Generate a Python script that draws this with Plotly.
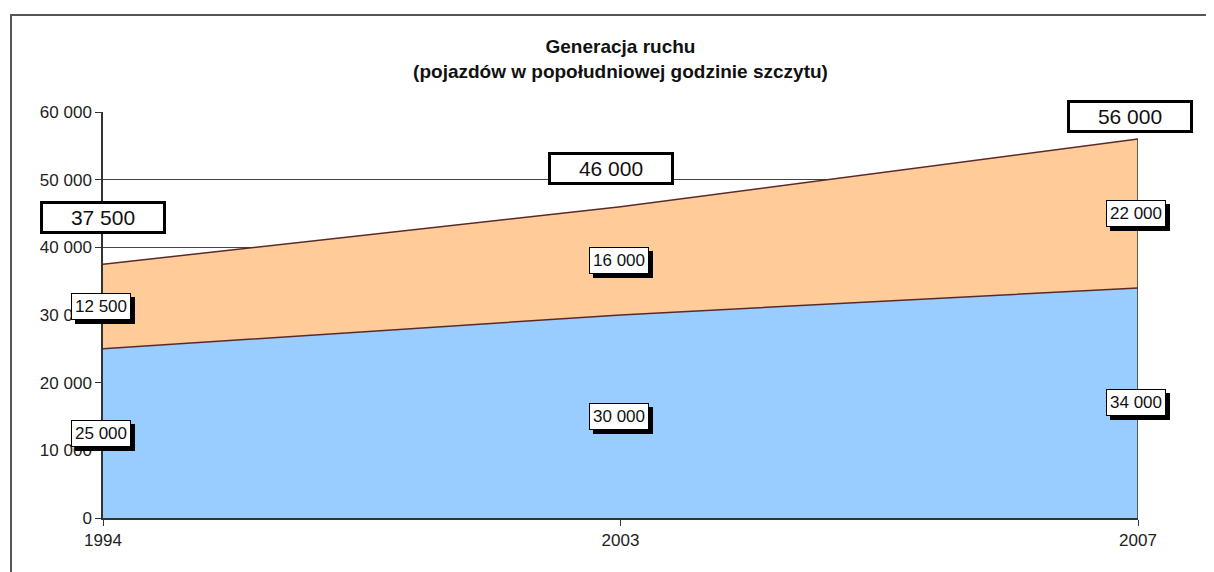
import plotly.graph_objects as go

# data
years = ["1994", "2003", "2007"]
base_traffic = [25000, 30000, 34000]      # lower (blue) band
added_traffic = [12500, 16000, 22000]     # upper (orange) band
totals = [b + a for b, a in zip(base_traffic, added_traffic)]

y_ticks = [0, 10000, 20000, 30000, 40000, 50000, 60000]


def fmt(v):
    # Polish style thousands separator: 37 500
    return f"{v:,}".replace(",", " ")


fig = go.Figure()

fig.add_trace(go.Scatter(
    x=years, y=base_traffic, stackgroup="s", mode="lines",
    line=dict(color="#5a2a2a", width=1.5), fillcolor="#99CCFF",
    hoverinfo="skip", showlegend=False,
))
fig.add_trace(go.Scatter(
    x=years, y=added_traffic, stackgroup="s", mode="lines",
    line=dict(color="#5a2a2a", width=1.5), fillcolor="#FFCC99",
    hoverinfo="skip", showlegend=False,
))
# closing edge of the area on the right side
fig.add_trace(go.Scatter(
    x=[years[-1], years[-1]], y=[0, totals[-1]], mode="lines",
    line=dict(color="#333333", width=1.5), hoverinfo="skip", showlegend=False,
))

small_font = dict(family="Liberation Sans, Arial, sans-serif", size=17, color="#111111")
big_font = dict(family="Liberation Sans, Arial, sans-serif", size=21, color="#111111")

annotations = []


def small_label(i, y, text, dx=0):
    # black drop shadow first, white box on top
    # (category index for x: numeric-looking names would be read as indices)
    common = dict(x=i, y=y, xref="x", yref="y", text=text, showarrow=False,
                  font=small_font, borderpad=3, borderwidth=1)
    annotations.append(dict(common, bgcolor="black", bordercolor="black",
                            font=dict(small_font, color="black"),
                            xshift=dx + 4, yshift=-4))
    annotations.append(dict(common, bgcolor="white", bordercolor="black",
                            xshift=dx))


for i in range(len(years)):
    small_label(i, base_traffic[i] / 2, fmt(base_traffic[i]), dx=-2)
    small_label(i, base_traffic[i] + added_traffic[i] / 2, fmt(added_traffic[i]), dx=-2)

# the total boxes were placed by hand above the area
total_shift = [(0, 47), (-10, 38), (-8, 23)]
for i in range(len(years)):
    dx, dy = total_shift[i]
    annotations.append(dict(
        x=i, y=totals[i], xref="x", yref="y", text=fmt(totals[i]),
        showarrow=False, font=big_font, bgcolor="white",
        bordercolor="black", borderwidth=3, width=118, height=25,
        xshift=dx, yshift=dy,
    ))

# page body has an 8px margin, so the figure is drawn 8px in from the corner
fig.update_layout(
    width=1206, height=564,
    margin=dict(l=95, r=76, t=104, b=54),
    paper_bgcolor="white", plot_bgcolor="white",
    separators=". ",
    font=dict(family="Liberation Sans, Arial, sans-serif", size=17, color="#222222"),
    title=dict(
        text="<b>Generacja ruchu<br>(pojazdów w popołudniowej godzinie szczytu)</b>",
        x=0.5, xref="paper", xanchor="center",
        y=1 - 45 / 564, yref="container", yanchor="top",
        font=dict(size=19, color="#111111"),
    ),
    xaxis=dict(
        type="category", range=[0, 2], showgrid=False,
        showline=True, linecolor="#333333", linewidth=1.5,
        ticks="outside", ticklen=6, tickcolor="#333333",
        tickfont=dict(size=17, color="#222222"),
    ),
    yaxis=dict(
        range=[0, 60000], tickvals=y_ticks, tickformat=",d",
        showgrid=True, gridcolor="#444444", gridwidth=1,
        showline=True, linecolor="#333333", linewidth=1.5,
        ticks="outside", ticklen=6, tickcolor="#333333",
        tickfont=dict(size=17, color="#222222"), zeroline=False,
    ),
    annotations=annotations,
    shapes=[dict(
        type="rect", xref="paper", yref="paper",
        x0=-92 / 1035, x1=1.2, y0=-0.4, y1=503 / 406,
        line=dict(color="#555555", width=2),
    )],
)

fig.write_html("out.html")
